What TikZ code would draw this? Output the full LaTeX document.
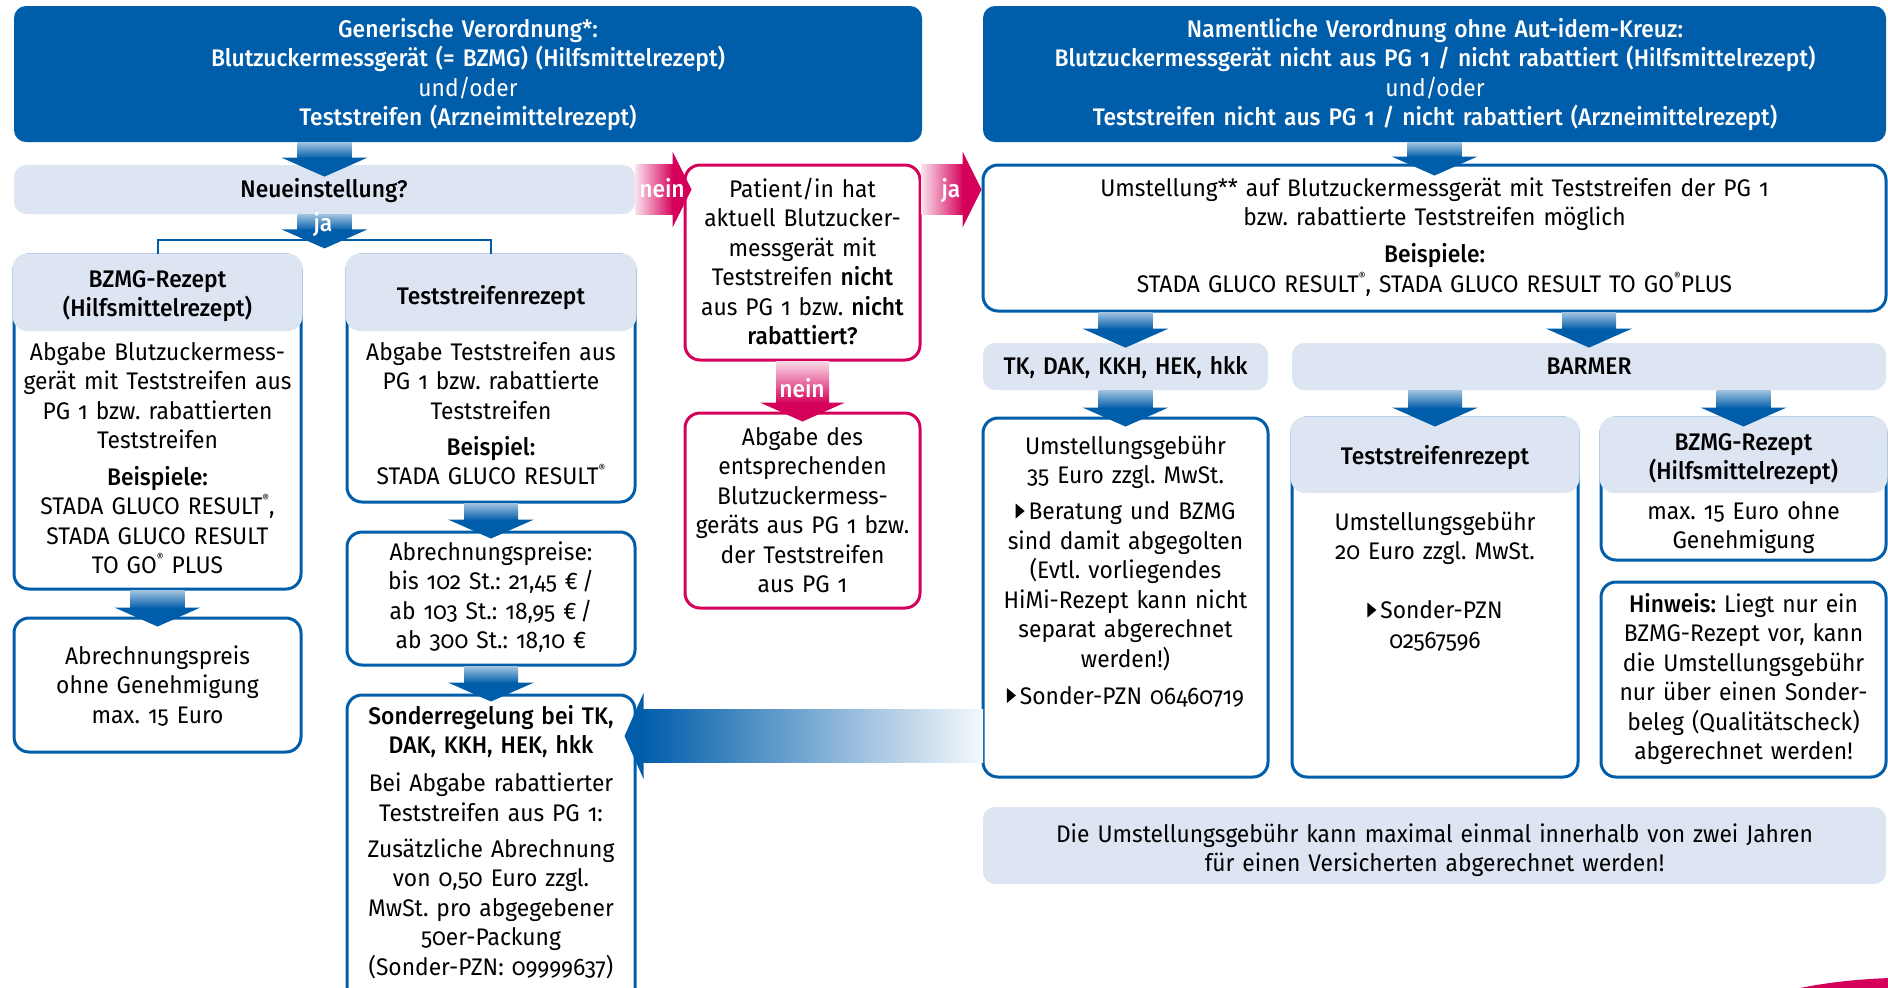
\documentclass[tikz,border=0pt]{standalone}
\usepackage{fontspec}
\setmainfont{Fira Sans}[Numbers=OldStyle,FakeStretch=0.95,BoldFont={* Medium},WordSpace=0.85]
\frenchspacing
\usetikzlibrary{calc}
\definecolor{bzblue}{RGB}{0,93,170}
\definecolor{bzlight}{RGB}{221,229,243}
\definecolor{bzpink}{RGB}{213,0,90}
\newcommand\reg{\raisebox{0.5em}{\fontsize{5.5}{5.5}\selectfont ®}}
\newcommand\tri{\tikz[baseline=0pt]\fill (0pt,0.5pt) -- (0pt,8pt) -- (4.5pt,4.25pt) -- cycle;\hspace{2pt}}
\newcommand\mkbox[6]{\node[#6, minimum width={(#4-#2)*0.5pt}, minimum height={(#5-#3)*0.5pt}] (#1) at ({(#2+#4)/2},{(#3+#5)/2}) {};}
\newcommand\bdown[2]{%
  \path[top color=bzblue!38, bottom color=bzblue] let \p1=#1, \p2=#2 in (\x2-13.5pt,\y1) rectangle (\x2+13.5pt,\y2+9pt);
  \path[fill=bzblue] let \p2=#2 in (\x2-21.5pt,\y2+9.5pt) -- (\x2+21.5pt,\y2+9.5pt) -- (\x2,\y2) -- cycle;}
\newcommand\pright[2]{%
  \path[left color=bzpink!12, right color=bzpink] let \p1=#1, \p2=#2 in (\x1,\y2-12.5pt) rectangle (\x2-9pt,\y2+12.5pt);
  \path[fill=bzpink] let \p2=#2 in (\x2-9.5pt,\y2+19pt) -- (\x2,\y2) -- (\x2-9.5pt,\y2-19pt) -- cycle;}
\newcommand\pdown[2]{%
  \path[top color=bzpink!15, bottom color=bzpink] let \p1=#1, \p2=#2 in (\x2-13.25pt,\y1) rectangle (\x2+13.25pt,\y2+9pt);
  \path[fill=bzpink] let \p2=#2 in (\x2-21.25pt,\y2+9.5pt) -- (\x2+21.25pt,\y2+9.5pt) -- (\x2,\y2) -- cycle;}
\begin{document}
\begin{tikzpicture}[x=0.5pt,y=-0.5pt,
  topbox/.style={fill=bzblue, rounded corners=6pt, inner sep=0pt},
  lightbar/.style={fill=bzlight, rounded corners=6pt, inner sep=0pt},
  bluebox/.style={draw=bzblue, line width=1.5pt, fill=white, rounded corners=7.5pt, inner sep=0pt},
  pinkbox/.style={draw=bzpink, line width=1.5pt, fill=white, rounded corners=7.5pt, inner sep=0pt},
  hdr/.style={fill=bzlight, rounded corners=7.5pt, inner sep=0pt},
  txt/.style={font=\fontsize{12}{14.75}\selectfont, align=center, inner sep=0pt, anchor=base, text width=#1},
  txt/.default=150pt,
  wtxt/.style={txt=#1, text=white},
  lbl/.style={font=\bfseries\fontsize{12}{14}\selectfont, text=white, inner sep=0pt, anchor=base},
  bracket/.style={draw=bzblue, line width=1pt}]
\useasboundingbox (0,0) rectangle (1888,987);
% ---------- boxes ----------
\mkbox{tlbox}{14}{6}{922}{142}{topbox}
\mkbox{trbox}{983}{6}{1886}{142}{topbox}
\mkbox{neu}{14}{165}{635}{214}{lightbar}
\mkbox{bzmg}{14}{255}{301}{589}{bluebox}
\mkbox{bzmgh}{12.5}{253.5}{302.5}{331}{hdr}
\mkbox{tsr}{347}{255}{635}{502}{bluebox}
\mkbox{tsrh}{345.5}{253.5}{636.5}{331}{hdr}
\mkbox{abpa}{14}{618}{301}{752}{bluebox}
\mkbox{abpb}{347}{532}{635}{665}{bluebox}
\mkbox{sond}{347}{695}{635}{1005}{bluebox}
\mkbox{pat}{685}{165}{920}{360}{pinkbox}
\mkbox{abg}{685}{413}{920}{608}{pinkbox}
\mkbox{umst}{983}{165}{1886}{311}{bluebox}
\mkbox{tk}{983}{343}{1268}{390}{lightbar}
\mkbox{barmer}{1292}{343}{1886}{390}{lightbar}
\mkbox{ueins}{983}{418}{1268}{777}{bluebox}
\mkbox{btsr}{1292}{418}{1578}{777}{bluebox}
\mkbox{btsrh}{1290.5}{416.5}{1579.5}{493}{hdr}
\mkbox{bbzmg}{1601}{418}{1886}{560}{bluebox}
\mkbox{bbzmgh}{1599.5}{416.5}{1887.5}{493}{hdr}
\mkbox{hinw}{1601}{582}{1886}{777}{bluebox}
\mkbox{foot}{983}{807}{1886}{884}{lightbar}
% ---------- bracket ----------
\draw[bracket] (bzmg.north) -- ++(0,7pt) -| (tsr.north);
% ---------- blue arrows ----------
\bdown{(neu.north |- tlbox.south)}{([yshift=-6pt]neu.north)}
\bdown{(neu.south)}{([yshift=-17pt]neu.south)}
\bdown{(bzmg.south)}{([yshift=-5pt]abpa.north)}
\bdown{(tsr.south)}{([yshift=-4pt]abpb.north)}
\bdown{(abpb.south)}{([yshift=-4pt]sond.north)}
\bdown{(umst.north |- trbox.south)}{([yshift=-6pt]umst.north)}
\bdown{(tk.north |- umst.south)}{([yshift=-2.5pt]tk.north)}
\bdown{(barmer.north |- umst.south)}{([yshift=-2.5pt]barmer.north)}
\bdown{(tk.south)}{([yshift=-5pt]ueins.north)}
\bdown{(btsr.north |- barmer.south)}{([yshift=-5pt]btsr.north)}
\bdown{(bbzmg.north |- barmer.south)}{([yshift=-5pt]bbzmg.north)}
% big arrow to the left
\coordinate (bigsrc) at (983,736);
\coordinate (bigtip) at ([xshift=-6pt]sond.east |- bigsrc);
\path[left color=bzblue, right color=bzblue!4] let \p1=(bigsrc), \p2=(bigtip) in (\x2+9pt,\y1-13.25pt) rectangle (\x1,\y1+13.25pt);
\path[fill=bzblue] let \p2=(bigtip) in (\x2+9.5pt,\y2+21.5pt) -- (\x2,\y2) -- (\x2+9.5pt,\y2-21.5pt) -- cycle;
% ---------- pink arrows ----------
\pright{(neu.east)}{([xshift=4pt]pat.west |- neu.east)}
\pright{(pat.east |- neu.east)}{(umst.west |- neu.east)}
\pdown{(pat.south)}{([yshift=-5pt]abg.north)}
% ---------- arrow labels ----------
\node[lbl] (l-ja1) at (323,231) {ja};
\node[lbl] (l-nein1) at (662,197) {nein};
\node[lbl] (l-ja2) at (951,197) {ja};
\node[lbl] (l-nein2) at (802,397) {nein};
% ---------- texts ----------
\node[wtxt=460pt] (tl-t) at (468,37) {\bfseries Generische Verordnung*:\\ Blutzuckermessgerät (= BZMG) (Hilfsmittelrezept)\\ \mdseries und/oder\\ \bfseries Teststreifen (Arzneimittelrezept)};
\node[wtxt=460pt] (tr-t) at (1435,37) {\bfseries Namentliche Verordnung ohne Aut-idem-Kreuz:\\ Blutzuckermessgerät nicht aus PG 1 / nicht rabattiert (Hilfsmittelrezept)\\ \mdseries und/oder\\ \bfseries Teststreifen nicht aus PG 1 / nicht rabattiert (Arzneimittelrezept)};
\node[txt=300pt] (neu-t) at (324,197) {\bfseries Neueinstellung?};
\node[txt=150pt] (bzmgh-t) at (157.5,287) {\bfseries BZMG-Rezept\\(Hilfsmittelrezept)};
\node[txt=150pt] (bzmg-t) at (157.5,360) {Abgabe Blutzuckermess-\\gerät mit Teststreifen aus\\PG 1 bzw. rabattierten\\Teststreifen\\[3.5pt]\textbf{Beispiele:}\\STADA GLUCO RESULT\reg,\\STADA GLUCO RESULT\\TO GO\reg\ PLUS};
\node[txt=150pt] (tsrh-t) at (491,304) {\bfseries Teststreifenrezept};
\node[txt=150pt] (tsr-t) at (491,360) {Abgabe Teststreifen aus\\PG 1 bzw. rabattierte\\Teststreifen\\[3.25pt]\textbf{Beispiel:}\\STADA GLUCO RESULT\reg};
\node[txt=150pt] (abpa-t) at (157.5,664) {Abrechnungspreis\\ohne Genehmigung\\max. 15 Euro};
\node[txt=150pt] (abpb-t) at (491,560) {Abrechnungspreise:\\bis 102 St.: 21,45 €\,/\\ab 103 St.: 18,95 €\,/\\ab 300 St.: 18,10 €};
\node[txt=150pt] (sond-t) at (491,724) {\textbf{Sonderregelung bei TK,}\\\textbf{DAK, KKH, HEK, hkk}\\[4.25pt]Bei Abgabe rabattierter\\Teststreifen aus PG 1:\\[3.25pt]Zusätzliche Abrechnung\\von 0,50 Euro zzgl.\\MwSt. pro abgegebener\\50er-Packung\\(Sonder-PZN: 09999637)};
\node[txt=125pt] (pat-t) at (802.5,197) {Patient/in hat\\aktuell Blutzucker-\\messgerät mit\\Teststreifen \textbf{nicht}\\aus PG 1 bzw. \textbf{nicht}\\\textbf{rabattiert?}};
\node[txt=125pt] (abg-t) at (802.5,445) {Abgabe des\\entsprechenden\\Blutzuckermess-\\geräts aus PG 1 bzw.\\der Teststreifen\\aus PG 1};
\node[txt=450pt] (umst-t) at (1434.5,196) {Umstellung** auf Blutzuckermessgerät mit Teststreifen der PG 1\\bzw. rabattierte Teststreifen möglich\\[3.75pt]\textbf{Beispiele:}\\STADA GLUCO RESULT\reg, STADA GLUCO RESULT TO GO\reg PLUS};
\node[txt=150pt] (tk-t) at (1125.5,374) {\bfseries TK, DAK, KKH, HEK, hkk};
\node[txt=290pt] (barmer-t) at (1589,374) {\bfseries BARMER};
\node[txt=150pt] (ueins-t) at (1125.5,454) {Umstellungsgebühr\\35 Euro zzgl. MwSt.\\[3.25pt]\tri Beratung und BZMG\\sind damit abgegolten\\(Evtl. vorliegendes\\HiMi-Rezept kann nicht\\separat abgerechnet\\werden!)\\[3.75pt]\tri Sonder-PZN 06460719};
\node[txt=150pt] (btsrh-t) at (1435,464) {\bfseries Teststreifenrezept};
\node[txt=150pt] (btsr-t) at (1435,530) {Umstellungsgebühr\\20 Euro zzgl. MwSt.\\[14.75pt]\tri Sonder-PZN\\02567596};
\node[txt=150pt] (bbzmgh-t) at (1743.5,450) {\bfseries BZMG-Rezept\\(Hilfsmittelrezept)};
\node[txt=150pt] (bbzmg-t) at (1743.5,519) {max. 15 Euro ohne\\Genehmigung};
\node[txt=150pt] (hinw-t) at (1743.5,612) {\textbf{Hinweis:} Liegt nur ein\\BZMG-Rezept vor, kann\\die Umstellungsgebühr\\nur über einen Sonder-\\beleg (Qualitätscheck)\\abgerechnet werden!};
\node[txt=450pt] (foot-t) at (1434.5,842) {Die Umstellungsgebühr kann maximal einmal innerhalb von zwei Jahren\\für einen Versicherten abgerechnet werden!};
% ---------- decorative swoosh ----------
\fill[bzpink] (1800,988) .. controls (1830,982) and (1860,979) .. (1890,978) -- (1890,990) -- cycle;
\end{tikzpicture}
\end{document}
